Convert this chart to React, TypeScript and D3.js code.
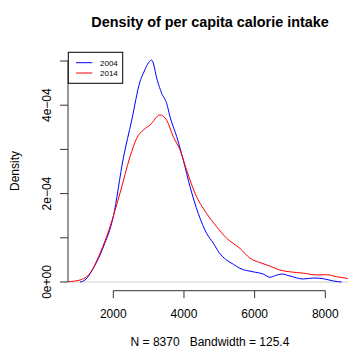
import { useEffect, useRef } from 'react'
import * as d3 from 'd3'

// calorie values (x) and density (y)
const calories2004 = [1058, 1199, 1434, 1717, 2000, 2283, 2521, 2755, 2849, 3086, 3250, 3369, 3511, 3604, 3794, 3980, 4170, 4405, 4642, 4829, 5000, 5200, 5400, 5584, 5961, 6244, 6433, 6600, 6764, 6999, 7375, 7658, 7941, 8224, 8462]
const density2004 = [0, 4.5e-6, 3.1e-5, 7.9e-5, 1.48e-4, 2.8e-4, 3.66e-4, 4.53e-4, 4.72e-4, 5.02e-4, 4.55e-4, 4.27e-4, 4.04e-4, 3.74e-4, 3.29e-4, 2.76e-4, 2.16e-4, 1.55e-4, 1.1e-4, 8.8e-5, 6.6e-5, 5.0e-5, 4.0e-5, 3.1e-5, 2.3e-5, 1.8e-5, 1.06e-5, 1.5e-5, 1.8e-5, 1.36e-5, 6.8e-6, 9e-6, 7.5e-6, 2.3e-6, 0]

const calories2014 = [727, 1058, 1341, 1624, 1907, 2190, 2472, 2662, 2849, 3038, 3321, 3511, 3697, 3887, 4076, 4311, 4642, 4925, 5208, 5584, 5867, 6150, 6433, 6716, 6999, 7375, 7754, 8037, 8320, 8603, 8760]
const density2014 = [0.7e-6, 4.5e-6, 2.0e-5, 6.5e-5, 1.25e-4, 2.01e-4, 2.83e-4, 3.25e-4, 3.44e-4, 3.55e-4, 3.78e-4, 3.66e-4, 3.29e-4, 2.99e-4, 2.53e-4, 2.01e-4, 1.55e-4, 1.25e-4, 9.9e-5, 7.6e-5, 5.4e-5, 4.4e-5, 3.6e-5, 2.7e-5, 2.3e-5, 2.0e-5, 1.6e-5, 1.65e-5, 1.2e-5, 8.4e-6, 6e-6]

const xTicks = [2000, 4000, 6000, 8000]
const yTicks = [0, 1e-4, 2e-4, 3e-4, 4e-4, 5e-4]
const yTickLabels = ['0e+00', '', '2e\u221204', '', '4e\u221204', '']
const seriesNames = ['2004', '2014']
const seriesColors = ['#0000ff', '#ff0000']

const width = 348
const height = 349
const font = 'Liberation Sans, Arial, Helvetica, sans-serif'

const App = () => {
  const svgRef = useRef<SVGSVGElement>(null)

  useEffect(() => {
    if (!svgRef.current) return
    const svg = d3.select(svgRef.current)
    svg.selectAll('*').remove()

    const plotLeft = 68
    const plotRight = 352

    const x = d3.scaleLinear().domain([2000, 8000]).range([113.3, 325.3])
    const y = d3.scaleLinear().domain([0, 5e-4]).range([282, 61])

    // title
    svg.append('text')
      .attr('x', (plotLeft + plotRight) / 2)
      .attr('y', 27)
      .attr('text-anchor', 'middle')
      .attr('font-family', font)
      .attr('font-size', 14.4)
      .attr('font-weight', 'bold')
      .text('Density of per capita calorie intake')

    // zero line
    svg.append('line')
      .attr('x1', plotLeft).attr('x2', width)
      .attr('y1', y(0)).attr('y2', y(0))
      .attr('stroke', '#d0d0d0')
      .attr('stroke-width', 1)

    // curves
    const series = [
      calories2004.map((c, i) => [c, density2004[i]] as [number, number]),
      calories2014.map((c, i) => [c, density2014[i]] as [number, number])
    ]
    const line = d3.line<[number, number]>()
      .x(d => x(d[0]))
      .y(d => y(d[1]))
      .curve(d3.curveMonotoneX)

    series.forEach((s, i) => {
      svg.append('path')
        .datum(s)
        .attr('d', line)
        .attr('fill', 'none')
        .attr('stroke', seriesColors[i])
        .attr('stroke-width', 1)
    })

    // x axis
    const axisY = 290.7
    const xAxis = svg.append('g').attr('font-family', font)
    xAxis.append('line')
      .attr('x1', x(xTicks[0])).attr('x2', x(xTicks[xTicks.length - 1]))
      .attr('y1', axisY).attr('y2', axisY)
      .attr('stroke', '#333')
    xTicks.forEach(t => {
      xAxis.append('line')
        .attr('x1', x(t)).attr('x2', x(t))
        .attr('y1', axisY).attr('y2', axisY + 7.5)
        .attr('stroke', '#333')
      xAxis.append('text')
        .attr('x', x(t))
        .attr('y', 318)
        .attr('text-anchor', 'middle')
        .attr('font-size', 12)
        .text(t)
    })

    // y axis
    const yAxis = svg.append('g').attr('font-family', font)
    yAxis.append('line')
      .attr('x1', plotLeft).attr('x2', plotLeft)
      .attr('y1', y(yTicks[0])).attr('y2', y(yTicks[yTicks.length - 1]))
      .attr('stroke', '#333')
    yTicks.forEach((t, i) => {
      yAxis.append('line')
        .attr('x1', plotLeft - 8).attr('x2', plotLeft)
        .attr('y1', y(t)).attr('y2', y(t))
        .attr('stroke', '#333')
      if (yTickLabels[i]) {
        yAxis.append('text')
          .attr('transform', `translate(51,${y(t)}) rotate(-90)`)
          .attr('text-anchor', 'middle')
          .attr('font-size', 12)
          .text(yTickLabels[i])
      }
    })

    // axis titles
    svg.append('text')
      .attr('transform', `translate(19,171) rotate(-90)`)
      .attr('text-anchor', 'middle')
      .attr('font-family', font)
      .attr('font-size', 12)
      .text('Density')

    svg.append('text')
      .attr('x', 210)
      .attr('y', 346)
      .attr('text-anchor', 'middle')
      .attr('font-family', font)
      .attr('font-size', 12)
      .style('white-space', 'pre')
      .text('N = 8370   Bandwidth = 125.4')

    // legend
    const legend = svg.append('g').attr('font-family', font)
    legend.append('rect')
      .attr('x', 68.3).attr('y', 52.3)
      .attr('width', 54.4).attr('height', 31)
      .attr('fill', 'white')
      .attr('stroke', '#000')
    seriesNames.forEach((name, i) => {
      const ly = 62.7 + i * 10.3
      legend.append('line')
        .attr('x1', 76).attr('x2', 92.3)
        .attr('y1', ly).attr('y2', ly)
        .attr('stroke', seriesColors[i])
      legend.append('text')
        .attr('x', 100)
        .attr('y', ly + 3)
        .attr('font-size', 8)
        .text(name)
    })
  }, [])

  return (
    <div style={{ position: 'absolute', left: 0, top: 0 }}>
      <svg ref={svgRef} width={width} height={height} style={{ display: 'block', background: 'white' }} />
    </div>
  )
}

export default App
